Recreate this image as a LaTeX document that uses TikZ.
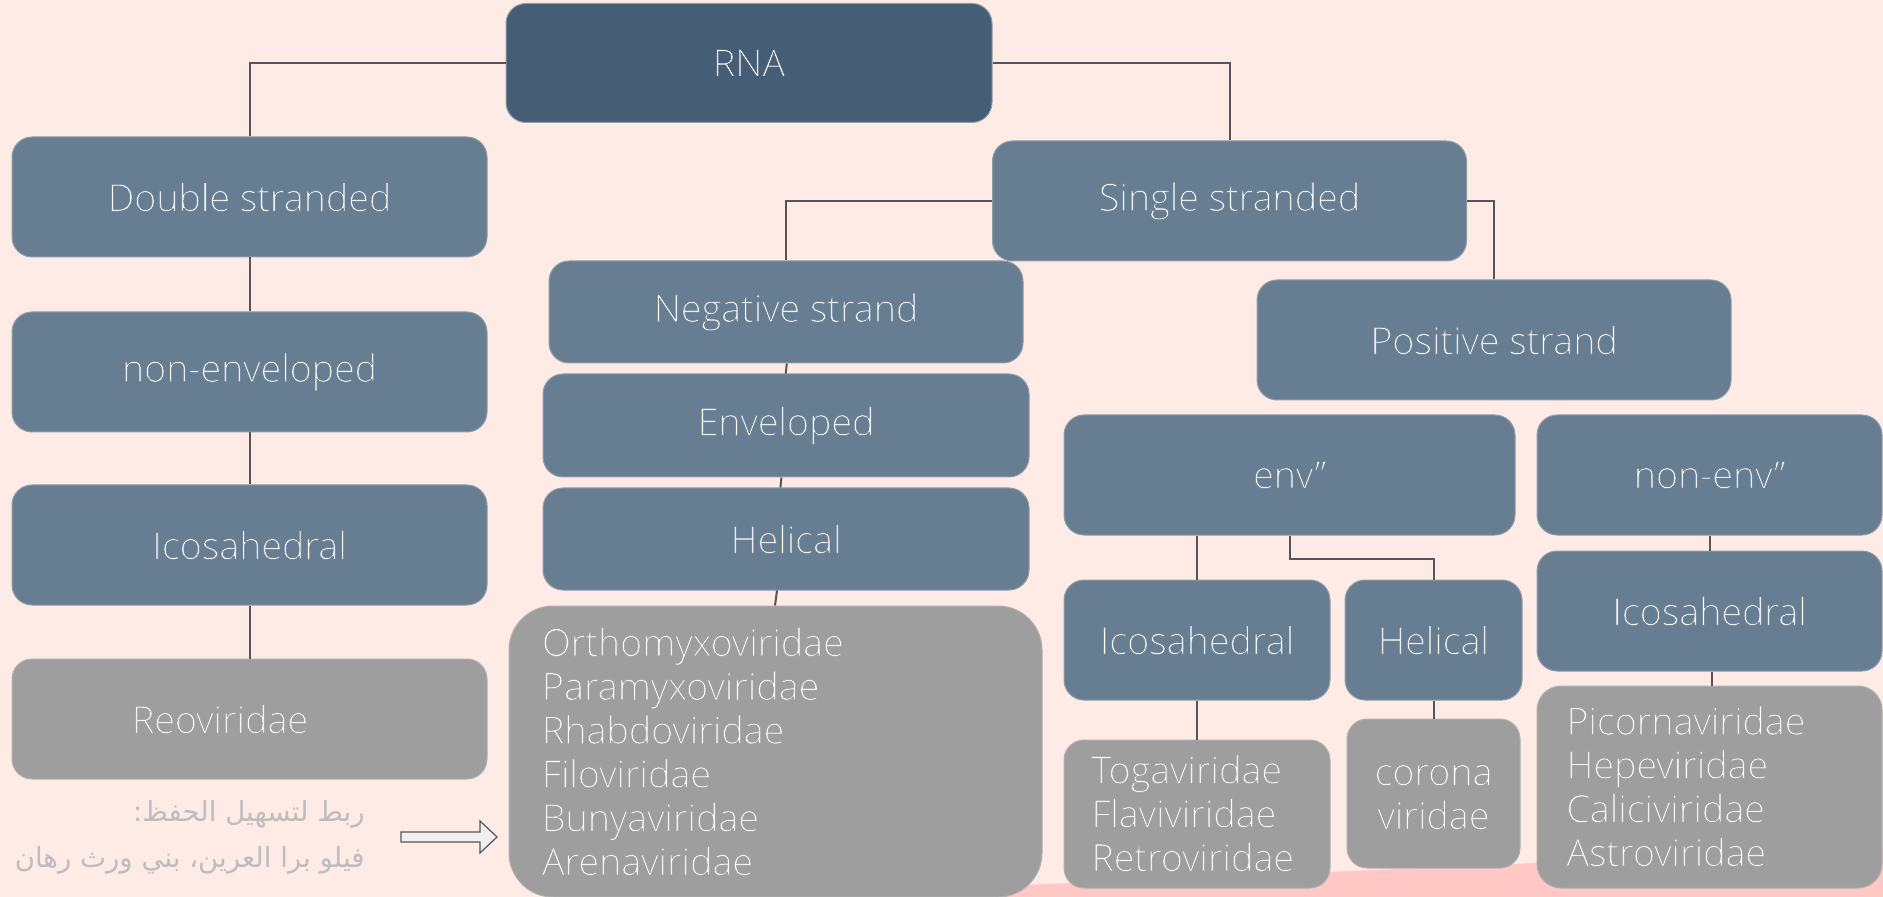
\documentclass[tikz,border=0pt]{standalone}
\usepackage{fontspec}
\setmainfont{Open Sans Light}
\newfontfamily\arabicfont[Script=Arabic]{DejaVu Sans}
\TeXXeTstate=1
\definecolor{bg}{HTML}{FFEBE6}
\definecolor{pinkband}{HTML}{FFC8C4}
\definecolor{boxblue}{HTML}{677E92}
\definecolor{boxdark}{HTML}{465E75}
\definecolor{boxgray}{HTML}{9E9E9E}
\definecolor{edgeblue}{HTML}{8E9DAA}
\definecolor{edgegray}{HTML}{B0B0B0}
\definecolor{linkcol}{HTML}{555555}
\definecolor{arabtext}{HTML}{BDBDBD}
\newcommand\lbfont{\fontsize{18.8}{21.9}\selectfont}
\tikzset{
  thinon/.style={execute at begin node={\color{white}\special{pdf:code q 2 Tr 0.28 w #1 RG}},
                 execute at end node={\special{pdf:code Q}}},
  box/.style={rectangle, rounded corners=10pt, inner sep=0pt, font=\lbfont, line width=0.5pt},
  bluebox/.style={box, fill=boxblue, draw=edgeblue, thinon={0.404 0.494 0.573}},
  darkbox/.style={box, fill=boxdark, draw=edgeblue, thinon={0.275 0.369 0.459}},
  greybox/.style={box, fill=boxgray, draw=edgegray},
  listtext/.style={font=\lbfont, align=left, inner sep=0pt, anchor=base west, thinon={0.62 0.62 0.62}},
  centext/.style={font=\lbfont, align=center, inner sep=0pt, anchor=base, thinon={0.62 0.62 0.62}},
  link/.style={draw=linkcol, line width=1pt},
  arabnote/.style={text=arabtext, font=\arabicfont\fontsize{13.8}{16}\selectfont, anchor=base east, inner sep=0pt},
}
\begin{document}
\begin{tikzpicture}[x=0.5pt,y=-0.5pt]
\useasboundingbox (0,0) rectangle (1883,897);
\clip (0,0) rectangle (1883,897);
\fill[bg] (0,0) rectangle (1883,897);
\fill[pinkband] (748,897) -- (1883,848) -- (1883,897) -- cycle;

% left column
\node[darkbox, minimum width=243pt, minimum height=59.5pt] (rna) at (749,63) {RNA};
\node[bluebox, minimum width=237.5pt, minimum height=60pt] (ds) at (249.5,197) {Double stranded};
\node[bluebox, minimum width=237.5pt, minimum height=60pt] (nenv) at (249.5,372) {non-enveloped};
\node[bluebox, minimum width=237.5pt, minimum height=60pt] (icoL) at (249.5,545) {Icosahedral};
\node[greybox, minimum width=237.5pt, minimum height=60pt] (reo) at (249.5,719) {};
\node[centext, anchor=center] (reotxt) at ([xshift=-14.75pt]reo.center) {Reoviridae};

% single stranded branch
\node[bluebox, minimum width=237pt, minimum height=60pt] (ss) at (1229.5,201) {Single stranded};
\node[bluebox, minimum width=237pt, minimum height=51pt] (neg) at (786,312) {Negative strand};
\node[bluebox, minimum width=243pt, minimum height=51.5pt] (env) at (786,425.5) {Enveloped};
\node[bluebox, minimum width=243pt, minimum height=51pt] (helN) at (786,539) {Helical};
\node[greybox, rounded corners=22pt, minimum width=266.5pt, minimum height=145.5pt] (big) at (775.5,751.5) {};
\node[listtext] (bigtxt) at (541.6,875) {Orthomyxoviridae\\Paramyxoviridae\\Rhabdoviridae\\Filoviridae\\Bunyaviridae\\Arenaviridae};

\node[bluebox, minimum width=237pt, minimum height=60pt] (pos) at (1494,340) {Positive strand};
\node[bluebox, minimum width=225.5pt, minimum height=60pt] (envpp) at (1289.5,475) {env”};
\node[bluebox, minimum width=172.5pt, minimum height=60pt] (nonenv) at (1709.5,475) {non-env”};
\node[bluebox, minimum width=133pt, minimum height=60pt] (icoM) at (1197,640) {Icosahedral};
\node[bluebox, minimum width=88.5pt, minimum height=60pt] (helM) at (1433.5,640) {Helical};
\node[greybox, minimum width=133pt, minimum height=74pt] (toga) at (1197,814) {};
\node[listtext] (togatxt) at (1091,871) {Togaviridae\\Flaviviridae\\Retroviridae};
\node[greybox, minimum width=86.5pt, minimum height=74.5pt] (corona) at (1433.5,793.5) {};
\node[centext] (coronatxt) at (1433.5,829) {corona\\viridae};
\node[bluebox, minimum width=172.5pt, minimum height=60pt] (icoR) at (1709.5,611) {Icosahedral};
\node[greybox, rounded corners=12pt, minimum width=172.5pt, minimum height=101pt] (picorna) at (1709.5,787) {};
\node[listtext] (picornatxt) at (1566,866) {Picornaviridae\\Hepeviridae\\Caliciviridae\\Astroviridae};

% connectors
\path[link] (rna.west) -| (ds.north);
\path[link] (rna.east) -| (ss.north);
\path[link] (ds.south) -- (nenv.north);
\path[link] (nenv.south) -- (icoL.north);
\path[link] (icoL.south) -- (reo.north);
\path[link] (ss.west) -| (neg.north);
\path[link] (ss.east) -| (pos.north);
\path[link] ([xshift=0.4pt]neg.south) -- ([xshift=-0.15pt]env.north);
\path[link] ([xshift=-2.3pt]env.south) -- ([xshift=-2.8pt]helN.north);
\path[link] ([xshift=-4.5pt]helN.south) -- ([xshift=-0.25pt]big.north);
\path[link] (icoM.north |- envpp.south) -- (icoM.north);
\path[link] (envpp.south) -- ++(0,-11.5pt) -| (helM.north);
\path[link] (icoM.south) -- (toga.north);
\path[link] (helM.south) -- (corona.north);
\path[link] (nonenv.south) -- (icoR.north);
\path[link] ([xshift=1pt]icoR.south) -- ([xshift=1pt]picorna.north);

% block arrow
\filldraw[fill=gray!12, draw=linkcol, line width=0.6pt]
  (401,832) -- (480,832) -- (480,821) -- (497,837) -- (480,853) -- (480,842) -- (401,842) -- cycle;

% arabic note
\node[arabnote] (ar1) at (365,821) {\beginR ربط لتسهيل الحفظ:\endR};
\node[arabnote] (ar2) at (365,867) {\beginR فيلو برا العرين، بني ورث رهان\endR};
\end{tikzpicture}
\end{document}
